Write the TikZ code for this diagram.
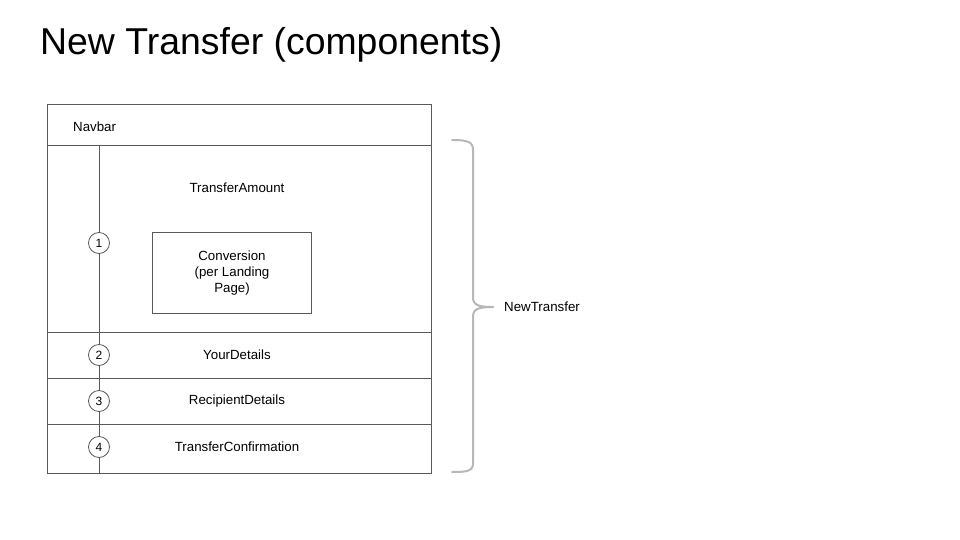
\documentclass[tikz,border=0pt]{standalone}
\usepackage{fontspec}
\setmainfont{Liberation Sans}
\definecolor{edge}{RGB}{89,89,89}
\definecolor{bracec}{RGB}{183,183,183}
\begin{document}
\begin{tikzpicture}[x=1pt,y=-1pt,
  section/.style={draw=edge,line width=1pt,rectangle,anchor=north west,inner sep=0pt,minimum width=384pt},
  lbl/.style={font=\fontsize{13.3}{16}\selectfont,inner sep=0pt},
  step circle/.style={draw=edge,fill=white,line width=0.8pt,circle,minimum size=21pt,inner sep=0pt,font=\fontsize{12}{14}\selectfont},
  spine/.style={draw=edge,line width=1pt},
  bracestyle/.style={draw=bracec,line width=2pt,line cap=round,line join=round}]
\useasboundingbox (0,0) rectangle (960,540);
\node[anchor=base west,inner sep=0pt,font=\fontsize{37.4}{40}\selectfont] (title) at (40,55) {New Transfer (components)};
% sections
\node[section,minimum height=41pt] (nav) at (47,104) {};
\node[section,minimum height=187pt] (amount) at (47,145) {};
\node[section,minimum height=46pt] (your) at (47,332) {};
\node[section,minimum height=46pt] (recip) at (47,378) {};
\node[section,minimum height=49pt] (confirm) at (47,424) {};
% labels
\node[lbl,anchor=west] (navlbl) at (73,127) {Navbar};
\node[lbl] (amountlbl) at (237,188) {TransferAmount};
\node[draw=edge,line width=1pt,rectangle,minimum width=159pt,minimum height=81pt,anchor=north west,inner sep=0pt] (conv) at (152,232) {};
\node[lbl,align=center] (convlbl) at (conv.center) {Conversion\\(per Landing\\Page)};
\node[lbl] (yourlbl) at (237,355) {YourDetails};
\node[lbl] (reciplbl) at (237,401) {RecipientDetails};
\node[lbl] (confirmlbl) at (237,447) {TransferConfirmation};
% spine
\coordinate (spinetop) at (99,145);
\coordinate (spinebot) at (99,473);
\draw[spine] (spinetop) -- (spinebot);
\node[step circle] (s1) at (99,243) {1};
\node[step circle] (s2) at (99,355) {2};
\node[step circle] (s3) at (99,401) {3};
\node[step circle] (s4) at (99,447) {4};
% brace
\draw[bracestyle] (452,140) .. controls (468,140) and (473,142) .. (473,150) -- (473,297)
  .. controls (473,305) and (478,307) .. (493,307);
\draw[bracestyle] (493,307) .. controls (478,307) and (473,309) .. (473,317) -- (473,463)
  .. controls (473,471) and (468,472) .. (452,472);
\node[lbl,anchor=west] (newt) at (504,307) {NewTransfer};
\end{tikzpicture}
\end{document}
